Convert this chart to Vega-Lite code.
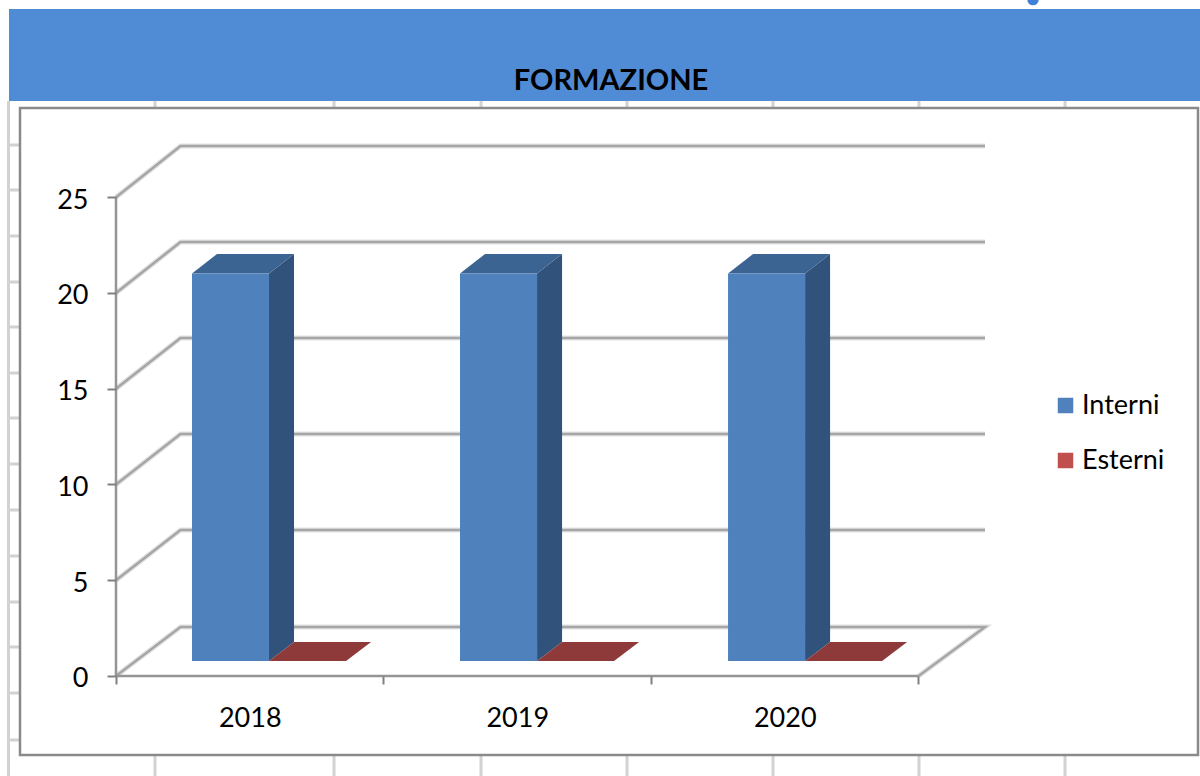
{
"$schema":"https://vega.github.io/schema/vega-lite/v6.json",
"width":1200,"height":776,"padding":0,
"autosize":{"type":"none"},
"background":"#ffffff",
"view":{"stroke":null},
"config":{"font":"Lato"},
"datasets":{
"sfondo":[{"nome":"intestazione","x0":-0.4,"x1":4.05234,"y0":30.026,"y1":34.83,"c":"#508BD6"},{"nome":"cornice","x0":-0.35888,"x1":4.04486,"y0":-4.125,"y1":29.661,"c":"#ffffff"}],
"celle_v":[{"x":0.1458,"y0":29.66,"y1":30.03},{"x":0.815,"y0":29.66,"y1":30.03},{"x":1.3645,"y0":29.66,"y1":30.03},{"x":1.9103,"y0":29.66,"y1":30.03},{"x":2.4561,"y0":29.66,"y1":30.03},{"x":3.0019,"y0":29.66,"y1":30.03},{"x":3.5477,"y0":29.66,"y1":30.03},
{"x":0.1458,"y0":-5.222,"y1":-4.125},{"x":0.815,"y0":-5.222,"y1":-4.125},{"x":1.3645,"y0":-5.222,"y1":-4.125},{"x":1.9103,"y0":-5.222,"y1":-4.125},{"x":2.4561,"y0":-5.222,"y1":-4.125},{"x":3.0019,"y0":-5.222,"y1":-4.125},{"x":3.5477,"y0":-5.222,"y1":-4.125},
{"x":-0.4019,"y0":-5.222,"y1":30.03}],
"celle_h":[{"y":27.728},{"y":25.379},{"y":22.977},{"y":20.574},{"y":18.225},{"y":15.822},{"y":13.473},{"y":11.07},{"y":8.668},{"y":6.266},{"y":3.864},{"y":1.514},{"y":-0.888},{"y":-3.342}],
"griglia":[
{"v":0,"o":1,"x":0,"y":0},{"v":0,"o":2,"x":0.2411,"y":2.56},{"v":0,"o":3,"x":3.2486,"y":2.56},{"v":0,"o":4,"x":3,"y":0},
{"v":5,"o":1,"x":0,"y":5},{"v":5,"o":2,"x":0.2411,"y":7.62},{"v":5,"o":3,"x":3.2486,"y":7.62},
{"v":10,"o":1,"x":0,"y":10},{"v":10,"o":2,"x":0.2411,"y":12.64},{"v":10,"o":3,"x":3.2486,"y":12.64},
{"v":15,"o":1,"x":0,"y":15},{"v":15,"o":2,"x":0.2411,"y":17.65},{"v":15,"o":3,"x":3.2486,"y":17.65},
{"v":20,"o":1,"x":0,"y":20},{"v":20,"o":2,"x":0.2411,"y":22.66},{"v":20,"o":3,"x":3.2486,"y":22.66},
{"v":25,"o":1,"x":0,"y":25},{"v":25,"o":2,"x":0.2411,"y":27.68},{"v":25,"o":3,"x":3.2486,"y":27.68}],
"assi":[{"k":"y","o":1,"x":0,"y":0},{"k":"y","o":2,"x":0,"y":25},{"k":"x","o":1,"x":0,"y":0},{"k":"x","o":2,"x":3,"y":0}],
"barre":[
{"anno":"2018","serie":"Interni","valore":20,"x0":0.2841,"x1":0.572,"y0":0.78,"y1":21.02},
{"anno":"2019","serie":"Interni","valore":20,"x0":1.286,"x1":1.574,"y0":0.78,"y1":21.02},
{"anno":"2020","serie":"Interni","valore":20,"x0":2.288,"x1":2.576,"y0":0.78,"y1":21.02},
{"anno":"2018","serie":"Esterni","valore":0,"x0":0.572,"x1":0.86,"y0":0.78,"y1":0.78},
{"anno":"2019","serie":"Esterni","valore":0,"x0":1.574,"x1":1.862,"y0":0.78,"y1":0.78},
{"anno":"2020","serie":"Esterni","valore":0,"x0":2.576,"x1":2.864,"y0":0.78,"y1":0.78}],
"fianchi":[
{"anno":"2018","x":0.572,"yb":0.78,"yt":21.02},{"anno":"2018","x":0.6655,"yb":1.77,"yt":22.03},
{"anno":"2019","x":1.574,"yb":0.78,"yt":21.02},{"anno":"2019","x":1.6675,"yb":1.77,"yt":22.03},
{"anno":"2020","x":2.576,"yb":0.78,"yt":21.02},{"anno":"2020","x":2.6695,"yb":1.77,"yt":22.03}],
"cime":[
{"anno":"2018","serie":"Interni","y":21.02,"xl":0.2841,"xr":0.572},{"anno":"2018","serie":"Interni","y":22.03,"xl":0.3776,"xr":0.6655},
{"anno":"2019","serie":"Interni","y":21.02,"xl":1.286,"xr":1.574},{"anno":"2019","serie":"Interni","y":22.03,"xl":1.3795,"xr":1.6675},
{"anno":"2020","serie":"Interni","y":21.02,"xl":2.288,"xr":2.576},{"anno":"2020","serie":"Interni","y":22.03,"xl":2.3815,"xr":2.6695},
{"anno":"2018","serie":"Esterni","y":0.78,"xl":0.572,"xr":0.86},{"anno":"2018","serie":"Esterni","y":1.77,"xl":0.6655,"xr":0.9535},
{"anno":"2019","serie":"Esterni","y":0.78,"xl":1.574,"xr":1.862},{"anno":"2019","serie":"Esterni","y":1.77,"xl":1.6675,"xr":1.9555},
{"anno":"2020","serie":"Esterni","y":0.78,"xl":2.576,"xr":2.864},{"anno":"2020","serie":"Esterni","y":1.77,"xl":2.6695,"xr":2.9575}],
"macchia":[{"x":3.428,"y":35.32}]
},
"data":{"values":[{"titolo":"FORMAZIONE","x":1.8505,"y":30.6}]},
"layer":[
{"data":{"name":"sfondo"},"mark":{"type":"rect","stroke":null},"transform":[{"filter":"datum.nome=='intestazione'"}],
"encoding":{
"x":{"field":"x0","type":"quantitative","scale":{"domain":[-0.43364,4.05234],"nice":false,"zero":false},"axis":{"orient":"bottom","offset":-100,"values":[0,1,2,3],"title":null,"grid":false,"domain":false,"tickSize":8,"tickWidth":2,"tickColor":"#808080","labelFontSize":27,"labelColor":"#000000","labelOffset":133.75,"labelPadding":21,"labelFlush":false,"labelBound":false,"labelOverlap":false,"labelExpr":"datum.value==0?'2018':datum.value==1?'2019':datum.value==2?'2020':''","zindex":1}},
"x2":{"field":"x1"},
"y":{"field":"y0","type":"quantitative","scale":{"domain":[-5.222,35.3],"nice":false,"zero":false},"axis":{"orient":"left","offset":-116,"values":[0,5,10,15,20,25],"title":null,"grid":false,"domain":false,"tickSize":9,"tickWidth":2,"tickColor":"#808080","labelFontSize":27,"labelColor":"#000000","labelPadding":19,"labelOffset":3,"labelBound":false,"labelOverlap":false,"labelFlush":false,"format":"d","zindex":1}},
"y2":{"field":"y1"},
"color":{"value":"#508BD6"}}},
{"data":{"name":"macchia"},"mark":{"type":"point","filled":true,"opacity":1,"color":"#3F80D8","size":130},
"encoding":{"x":{"field":"x","type":"quantitative"},"y":{"field":"y","type":"quantitative"}}},
{"data":{"name":"celle_v"},"mark":{"type":"rule","color":"#d2d2d2","strokeWidth":3},
"encoding":{"x":{"field":"x","type":"quantitative"},"y":{"field":"y0","type":"quantitative"},"y2":{"field":"y1"}}},
{"data":{"name":"celle_h"},"mark":{"type":"rule","color":"#d2d2d2","strokeWidth":3},
"encoding":{"y":{"field":"y","type":"quantitative"},"x":{"datum":-0.4},"x2":{"datum":-0.3589}}},
{"data":{"name":"sfondo"},"transform":[{"filter":"datum.nome=='cornice'"}],"mark":{"type":"rect","fill":"#ffffff","stroke":"#8a8a8a","strokeWidth":2.5},
"encoding":{"x":{"field":"x0","type":"quantitative"},"x2":{"field":"x1"},"y":{"field":"y0","type":"quantitative"},"y2":{"field":"y1"}}},
{"data":{"name":"griglia"},"mark":{"type":"line","color":"#e2e2e2","strokeWidth":5,"strokeJoin":"miter"},
"encoding":{"x":{"field":"x","type":"quantitative"},"y":{"field":"y","type":"quantitative"},"detail":{"field":"v"},"order":{"field":"o"}}},
{"data":{"name":"griglia"},"mark":{"type":"line","color":"#a6a6a6","strokeWidth":2.5,"strokeJoin":"miter"},
"encoding":{"x":{"field":"x","type":"quantitative"},"y":{"field":"y","type":"quantitative"},"detail":{"field":"v"},"order":{"field":"o"}}},
{"data":{"name":"assi"},"mark":{"type":"line","color":"#959595","strokeWidth":2.5},
"encoding":{"x":{"field":"x","type":"quantitative"},"y":{"field":"y","type":"quantitative"},"detail":{"field":"k"},"order":{"field":"o"}}},
{"data":{"name":"fianchi"},"mark":{"type":"area","color":"#31527B"},
"encoding":{"x":{"field":"x","type":"quantitative"},"y":{"field":"yb","type":"quantitative"},"y2":{"field":"yt"},"detail":{"field":"anno"}}},
{"data":{"name":"cime"},"transform":[{"filter":"datum.serie=='Interni'"}],"mark":{"type":"area","orient":"horizontal","color":"#3C6492"},
"encoding":{"y":{"field":"y","type":"quantitative"},"x":{"field":"xl","type":"quantitative"},"x2":{"field":"xr"},"detail":{"field":"anno"}}},
{"data":{"name":"cime"},"transform":[{"filter":"datum.serie=='Esterni'"}],"mark":{"type":"area","orient":"horizontal","color":"#8F3A3A"},
"encoding":{"y":{"field":"y","type":"quantitative"},"x":{"field":"xl","type":"quantitative"},"x2":{"field":"xr"},"detail":{"field":"anno"}}},
{"data":{"name":"barre"},"mark":{"type":"rect"},
"encoding":{"x":{"field":"x0","type":"quantitative"},"x2":{"field":"x1"},"y":{"field":"y0","type":"quantitative"},"y2":{"field":"y1"},
"color":{"field":"serie","type":"nominal","scale":{"domain":["Interni","Esterni"],"range":["#4F81BD","#C0504D"]},
"legend":{"orient":"none","legendX":1052,"legendY":392,"title":null,"symbolType":"square","symbolSize":240,"symbolStrokeWidth":0,"labelFontSize":27,"labelColor":"#000000","labelOffset":3,"rowPadding":27,"padding":0}}}},
{"mark":{"type":"text","font":"Lato","fontWeight":"bold","fontSize":29,"color":"#000000","align":"center","baseline":"alphabetic"},
"encoding":{"x":{"field":"x","type":"quantitative"},"y":{"field":"y","type":"quantitative"},"text":{"field":"titolo"}}}
]
}
